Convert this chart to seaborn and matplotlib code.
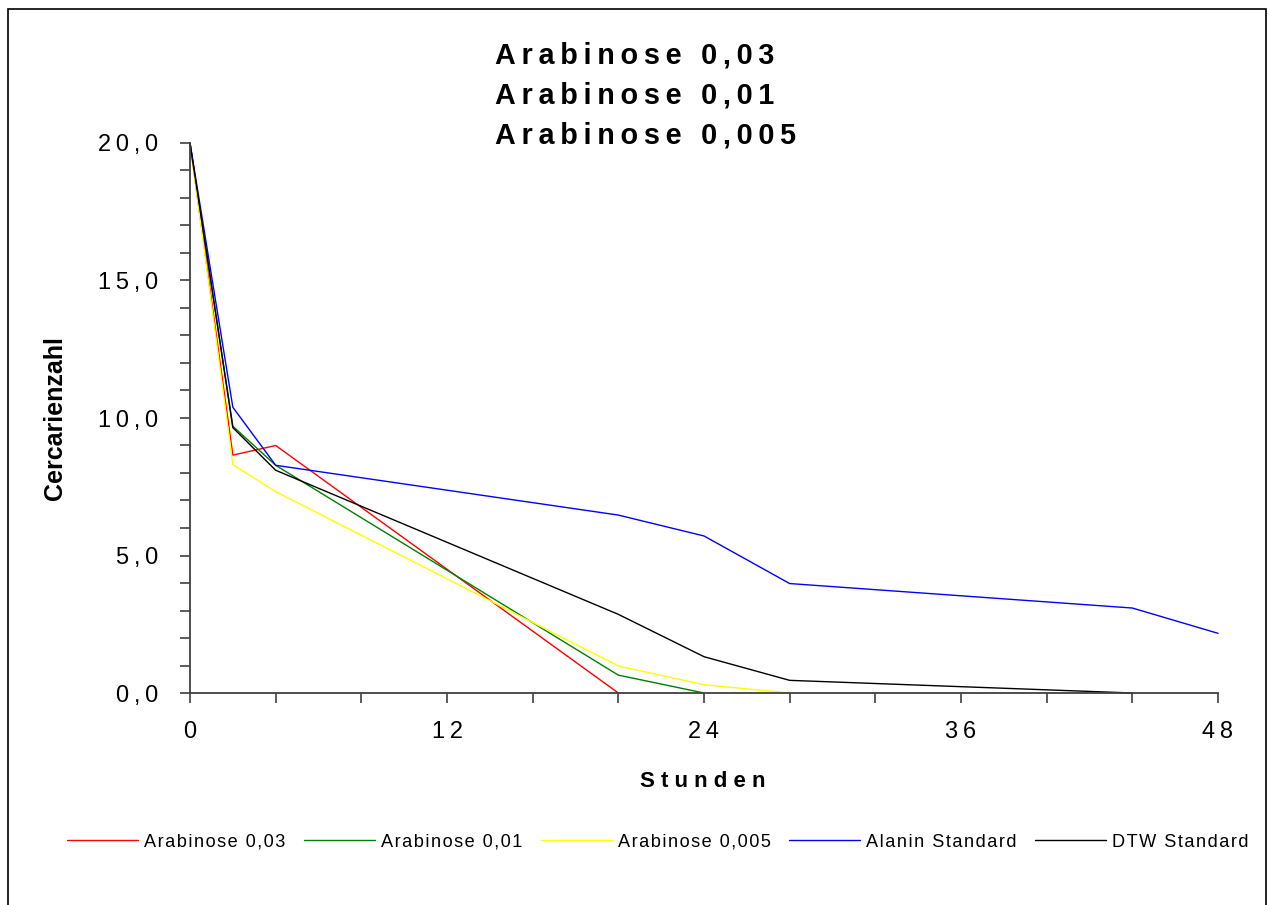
import matplotlib
matplotlib.use("Agg")
import matplotlib.pyplot as plt
from matplotlib.patches import Rectangle
from matplotlib.ticker import MultipleLocator, FixedLocator
import seaborn as sns
import pandas as pd

# ---- data ----
hours = [0, 2, 4, 20, 24, 28, 44, 48]
arabinose_003 = [20.0, 8.65, 9.0, 0.0]
arabinose_001 = [20.0, 9.7, 8.28, 0.65, 0.0]
arabinose_0005 = [20.0, 8.3, 7.32, 0.98, 0.30, 0.0]
alanin_standard = [20.0, 10.39, 8.28, 6.47, 5.71, 3.98, 3.09, 2.17]
dtw_standard = [20.0, 9.65, 8.1, 2.86, 1.32, 0.46, 0.0]

series_names = ["Arabinose 0,03", "Arabinose 0,01", "Arabinose 0,005",
                "Alanin Standard", "DTW Standard"]
series_values = [arabinose_003, arabinose_001, arabinose_0005,
                 alanin_standard, dtw_standard]
series_colors = ["#FF0000", "#008000", "#FFFF00", "#0000FF", "#000000"]

x_ticks = [0, 12, 24, 36, 48]
y_ticks = [0, 5, 10, 15, 20]
title_lines = ["Arabinose 0,03", "Arabinose 0,01", "Arabinose 0,005"]
x_label = "Stunden"
y_label = "Cercarienzahl"

rows = []
for name, vals in zip(series_names, series_values):
    for h, v in zip(hours, vals):
        rows.append({"Stunden": h, "Cercarienzahl": v, "Serie": name})
df = pd.DataFrame(rows)

TS = "\u2009"  # thin space for letter spacing
HS = "\u200a"  # hair space


def spaced(s, sep=TS):
    return sep.join(list(s))


FAM = ["Liberation Sans", "DejaVu Sans"]
sns.set_theme(style="white")
plt.rcParams["font.family"] = FAM
plt.rcParams["text.color"] = "black"
plt.rcParams["axes.labelcolor"] = "black"
plt.rcParams["xtick.color"] = "black"
plt.rcParams["ytick.color"] = "black"

W, H = 1269, 905
fig = plt.figure(figsize=(W / 100, H / 100), dpi=100)
ax = fig.add_axes([190 / W, 1 - 693 / H, (1218 - 190) / W, (693 - 143) / H])

sns.lineplot(data=df, x="Stunden", y="Cercarienzahl", hue="Serie",
             hue_order=series_names, palette=series_colors,
             estimator=None, sort=False, linewidth=1.0, ax=ax, legend=True)

ax.set_xlim(0, 48)
ax.set_ylim(0, 20)
ax.margins(0)
for l in ax.lines:
    l.set_clip_on(False)

for s in ["top", "right"]:
    ax.spines[s].set_visible(False)
for s in ["left", "bottom"]:
    ax.spines[s].set_color("#404040")
    ax.spines[s].set_linewidth(1.3)

ax.xaxis.set_major_locator(FixedLocator(x_ticks))
ax.xaxis.set_minor_locator(MultipleLocator(4))
ax.yaxis.set_major_locator(FixedLocator(y_ticks))
ax.yaxis.set_minor_locator(MultipleLocator(1))
ax.set_xticklabels([spaced(str(t)) for t in x_ticks], fontsize=17, family=FAM)
ax.set_yticklabels([spaced(f"{t:.1f}".replace(".", ",")) for t in y_ticks],
                   fontsize=17, family=FAM)
ax.tick_params(axis="x", which="both", direction="out", length=7, width=1.2,
               color="#404040", bottom=True, pad=13)
ax.tick_params(axis="y", which="both", direction="out", length=7, width=1.2,
               color="#404040", left=True, pad=16)
ax.tick_params(which="major", labelcolor="black")
ax.grid(False)
ax.set_xlabel("")
ax.set_ylabel("")

# title lines
for i, line in enumerate(title_lines):
    fig.text(495 / W, 1 - (63 + 40.5 * i) / H, spaced(line), ha="left",
             va="baseline", fontsize=20.7, fontweight="bold", family=FAM,
             color="black")

fig.text(703 / W, 1 - 787 / H, " ".join(list(x_label)), ha="center",
         va="baseline", fontsize=16, fontweight="bold", color="black")
fig.text(55 / W, 1 - 418 / H, y_label, ha="center", va="center",
         rotation=90, fontsize=18, fontweight="bold", color="black")

# legend
handles, labels = ax.get_legend_handles_labels()
ax.legend_.remove()
leg_labels = [spaced(l, HS) for l in labels]
leg = fig.legend(handles, leg_labels,
                 loc="center", bbox_to_anchor=(658 / W, 1 - 842 / H),
                 ncol=5, frameon=False,
                 handlelength=3.9, handletextpad=0.35, columnspacing=1.0,
                 prop={"family": FAM, "size": 13.1})
for lh in leg.get_lines():
    lh.set_linewidth(1.0)
for t in leg.get_texts():
    t.set_color("black")

# outer border
fig.add_artist(Rectangle((8 / W, -0.05), (1266 - 8) / W, 1 - 9 / H + 0.05,
                         transform=fig.transFigure, fill=False, lw=1.2,
                         ec="black", clip_on=False))

fig.savefig("out.png", dpi=100, facecolor="white")
